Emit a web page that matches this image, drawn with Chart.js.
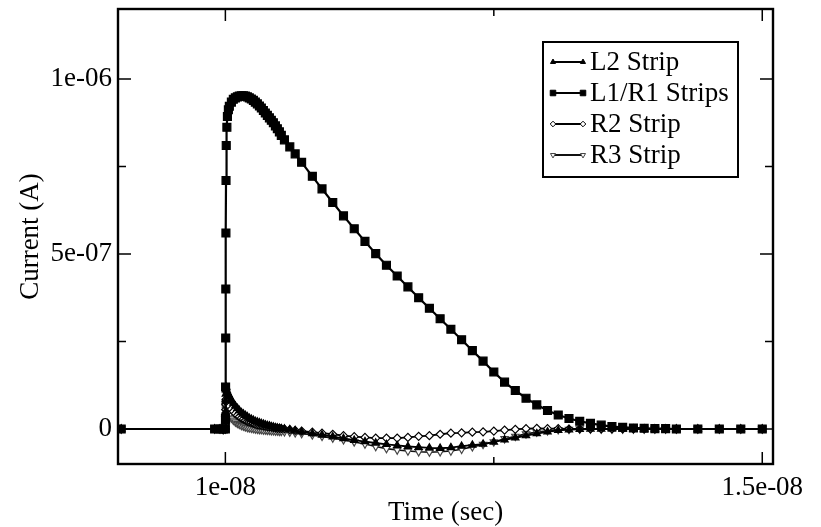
<!DOCTYPE html>
<html>
<head>
<meta charset="utf-8">
<title>Strip currents</title>
<script src="https://cdn.jsdelivr.net/npm/chart.js@4/dist/chart.umd.min.js"></script>
<style>
  html, body { margin: 0; padding: 0; background: #fff; }
  #wrap { width: 821px; height: 527px; }
</style>
</head>
<body>
<div id="wrap"><canvas id="chart" width="821" height="527"></canvas></div>
<script>
// --- Data (time in ns, current in uA; converted to s / A below) ---
const timeNs = [
  9.03, 9.9, 9.95, 9.98, 10.0,
  10.001, 10.002, 10.003, 10.004, 10.005, 10.006, 10.008,
  10.014, 10.019, 10.028, 10.037, 10.056, 10.074, 10.093, 10.112, 10.130, 10.149,
  10.168, 10.186, 10.205, 10.223, 10.242, 10.261, 10.279, 10.298, 10.317, 10.335,
  10.354, 10.372, 10.391, 10.410, 10.428, 10.447, 10.466, 10.484, 10.503, 10.521,
  10.55, 10.60, 10.65, 10.71, 10.81, 10.90,
  11.0, 11.1, 11.2, 11.3, 11.4, 11.5, 11.6, 11.7, 11.8, 11.9,
  12.0, 12.1, 12.2, 12.3, 12.4, 12.5, 12.6, 12.7, 12.8, 12.9,
  13.0, 13.1, 13.2, 13.3, 13.4, 13.5, 13.6, 13.7, 13.8, 13.9,
  14.0, 14.1, 14.2, 14.4, 14.6, 14.8, 15.0
];
const l2uA = [
  0, 0, 0, -0.002, 0,
  0.02, 0.05, 0.08, 0.10, 0.112, 0.118, 0.12,
  0.110, 0.105, 0.099, 0.094, 0.083, 0.074, 0.066, 0.059, 0.053, 0.047,
  0.043, 0.039, 0.035, 0.031, 0.028, 0.025, 0.022, 0.020, 0.018, 0.016,
  0.014, 0.012, 0.010, 0.009, 0.007, 0.006, 0.004, 0.003, 0.002, 0.001,
  0.000, -0.002, -0.005, -0.008, -0.013, -0.017,
  -0.022, -0.027, -0.032, -0.036, -0.040, -0.044, -0.047, -0.050, -0.052, -0.054,
  -0.055, -0.053, -0.049, -0.046, -0.043, -0.037, -0.031, -0.025, -0.019, -0.013,
  -0.008, -0.004, -0.002, -0.001, 0, 0, 0, 0, 0, 0,
  0, 0, 0, 0, 0, 0, 0
];
const l1r1uA = [
  0, 0, 0, 0, 0,
  0.03, 0.12, 0.26, 0.40, 0.56, 0.71, 0.81,
  0.862, 0.893, 0.912, 0.922, 0.934, 0.942, 0.946, 0.949, 0.951, 0.952,
  0.952, 0.951, 0.949, 0.946, 0.943, 0.939, 0.934, 0.929, 0.923, 0.917,
  0.910, 0.903, 0.896, 0.889, 0.882, 0.875, 0.866, 0.858, 0.849, 0.839,
  0.826, 0.806, 0.786, 0.762, 0.722, 0.686,
  0.647, 0.609, 0.572, 0.536, 0.501, 0.468, 0.437, 0.406, 0.375, 0.345,
  0.315, 0.285, 0.255, 0.224, 0.194, 0.163, 0.134, 0.110, 0.088, 0.069,
  0.053, 0.040, 0.030, 0.022, 0.016, 0.011, 0.007, 0.005, 0.003, 0.002,
  0.001, 0.001, 0, 0, 0, 0, 0
];
const r2uA = [
  0, 0, 0, -0.002, 0,
  0.015, 0.035, 0.055, 0.07, 0.078, 0.083, 0.085,
  0.080, 0.076, 0.070, 0.065, 0.057, 0.050, 0.044, 0.039, 0.035, 0.031,
  0.028, 0.025, 0.022, 0.020, 0.018, 0.016, 0.014, 0.012, 0.011, 0.010,
  0.009, 0.008, 0.007, 0.006, 0.005, 0.004, 0.003, 0.002, 0.002, 0.001,
  0.000, -0.002, -0.004, -0.006, -0.009, -0.012,
  -0.015, -0.019, -0.022, -0.024, -0.026, -0.026, -0.026, -0.024, -0.021, -0.019,
  -0.015, -0.012, -0.011, -0.009, -0.008, -0.006, -0.003, -0.001, 0.001, 0.002,
  0.001, 0.001, 0, 0, 0, 0, 0, 0, 0, 0,
  0, 0, 0, 0, 0, 0, 0
];
const r3uA = [
  0, 0, 0, -0.002, 0,
  0.01, 0.025, 0.04, 0.05, 0.056, 0.06, 0.061,
  0.055, 0.050, 0.044, 0.039, 0.031, 0.025, 0.020, 0.016, 0.013, 0.010,
  0.008, 0.006, 0.004, 0.003, 0.002, 0.001, 0.000, -0.001, -0.002, -0.002,
  -0.003, -0.003, -0.004, -0.004, -0.005, -0.005, -0.006, -0.006, -0.007, -0.007,
  -0.008, -0.009, -0.011, -0.013, -0.017, -0.021,
  -0.026, -0.031, -0.037, -0.043, -0.050, -0.056, -0.060, -0.063, -0.065, -0.066,
  -0.065, -0.063, -0.058, -0.051, -0.044, -0.037, -0.028, -0.021, -0.014, -0.009,
  -0.005, -0.002, -0.001, 0, 0, 0, 0, 0, 0, 0,
  0, 0, 0, 0, 0, 0, 0
];
const seriesNames = ['L2 Strip', 'L1/R1 Strips', 'R2 Strip', 'R3 Strip'];

const xTicks = [1e-8, 1.5e-8];
const xTickLabels = ['1e-08', '1.5e-08'];
const xMinorTicks = [1.25e-8];
const yTicks = [0, 5e-7, 1e-6];
const yTickLabels = ['0', '5e-07', '1e-06'];
const yMinorTicks = [2.5e-7, 7.5e-7];

// --- Helpers ---
const FONT = "'Liberation Serif', 'Times New Roman', serif";
function toPoints(vals) {
  return timeNs.map((t, i) => ({ x: t * 1e-9, y: vals[i] * 1e-6 }));
}

const styles = [
  { pointStyle: 'triangle', radius: 4.2, rotation: 0, fill: '#000', stroke: '#000', line: '#000', width: 1.8 },
  { pointStyle: 'rect', radius: 5.6, rotation: 0, fill: '#000', stroke: '#000', line: '#000', width: 2.2 },
  { pointStyle: 'rectRot', radius: 4, rotation: 0, fill: '#fff', stroke: '#000', line: '#000', width: 1.8 },
  { pointStyle: 'triangle', radius: 4.2, rotation: 180, fill: '#fff', stroke: '#444', line: '#111', width: 1.6 }
];
const seriesValues = [l2uA, l1r1uA, r2uA, r3uA];

const datasets = seriesNames.map((name, i) => {
  const s = styles[i];
  return {
    label: name,
    data: toPoints(seriesValues[i]),
    borderColor: s.line,
    borderWidth: s.width,
    pointStyle: s.pointStyle,
    pointRotation: s.rotation,
    pointRadius: s.radius,
    pointBackgroundColor: s.fill,
    pointBorderColor: s.stroke,
    pointBorderWidth: 1.2,
    tension: 0,
    fill: false
  };
});

// frame, inward ticks and the boxed legend
const framePlugin = {
  id: 'frame',
  afterDraw(chart) {
    const ctx = chart.ctx;
    const { left, right, top, bottom } = chart.chartArea;
    const xs = chart.scales.x, ys = chart.scales.y;
    ctx.save();
    ctx.strokeStyle = '#000';
    ctx.lineWidth = 1.5;
    ctx.beginPath();
    const xt = (v, len) => {
      const p = xs.getPixelForValue(v);
      ctx.moveTo(p, bottom); ctx.lineTo(p, bottom - len);
      ctx.moveTo(p, top); ctx.lineTo(p, top + len);
    };
    const yt = (v, len) => {
      const p = ys.getPixelForValue(v);
      ctx.moveTo(left, p); ctx.lineTo(left + len, p);
      ctx.moveTo(right, p); ctx.lineTo(right - len, p);
    };
    xTicks.forEach(v => xt(v, 12));
    xMinorTicks.forEach(v => xt(v, 7));
    yTicks.forEach(v => yt(v, 13));
    yMinorTicks.forEach(v => yt(v, 8));
    ctx.stroke();
    ctx.lineWidth = 2.4;
    ctx.strokeRect(left, top, right - left, bottom - top);

    // legend
    const lx = 543, ly = 42, lw = 195, lh = 135;
    ctx.fillStyle = '#fff';
    ctx.fillRect(lx, ly, lw, lh);
    ctx.lineWidth = 2;
    ctx.strokeRect(lx, ly, lw, lh);
    ctx.font = '27px ' + FONT;
    ctx.textBaseline = 'middle';
    chart.data.datasets.forEach((ds, i) => {
      const y = ly + 20 + i * 31;
      const x0 = lx + 10, x1 = lx + 40;
      ctx.strokeStyle = ds.borderColor;
      ctx.lineWidth = 2;
      ctx.beginPath(); ctx.moveTo(x0, y); ctx.lineTo(x1, y); ctx.stroke();
      ctx.fillStyle = ds.pointBackgroundColor;
      ctx.strokeStyle = ds.pointBorderColor;
      ctx.lineWidth = 1;
      const opts = { pointStyle: ds.pointStyle, radius: ds.pointRadius * 0.7, rotation: ds.pointRotation, borderWidth: 1 };
      Chart.helpers.drawPoint(ctx, opts, x0, y);
      Chart.helpers.drawPoint(ctx, opts, x1, y);
      ctx.fillStyle = '#000';
      ctx.fillText(ds.label, lx + 47, y + 1);
    });
    ctx.restore();
  }
};

new Chart(document.getElementById('chart'), {
  type: 'line',
  data: { datasets },
  options: {
    responsive: false,
    devicePixelRatio: 1,
    animation: false,
    layout: { padding: { left: 0, top: 9, right: 48, bottom: 0 } },
    plugins: { legend: { display: false }, tooltip: { enabled: false } },
    scales: {
      x: {
        type: 'linear',
        min: 9e-9,
        max: 1.51e-8,
        grid: { display: false, drawTicks: false },
        border: { display: false },
        afterBuildTicks: s => { s.ticks = xTicks.map(v => ({ value: v })); },
        afterFit: s => { s.height = 63; s.paddingLeft = 0; s.paddingRight = 0; },
        ticks: {
          autoSkip: false, maxRotation: 0, padding: 8, color: '#000',
          font: { family: FONT, size: 27 },
          callback: (v, i) => xTickLabels[i]
        },
        title: {
          display: true, text: 'Time (sec)', color: '#000',
          font: { family: FONT, size: 27, lineHeight: 1 },
          padding: { top: 0, bottom: 1 }
        }
      },
      y: {
        type: 'linear',
        min: -1e-7,
        max: 1.2e-6,
        grid: { display: false, drawTicks: false },
        border: { display: false },
        afterBuildTicks: s => { s.ticks = yTicks.map(v => ({ value: v })); },
        afterFit: s => { s.width = 118; s.paddingTop = 0; s.paddingBottom = 0; },
        ticks: {
          autoSkip: false, padding: 6, color: '#000',
          font: { family: FONT, size: 27 },
          callback: (v, i) => yTickLabels[i]
        },
        title: {
          display: true, text: 'Current (A)', color: '#000',
          font: { family: FONT, size: 27, lineHeight: 1 },
          padding: { top: 17, bottom: 0 }
        }
      }
    }
  },
  plugins: [framePlugin]
});
</script>
</body>
</html>
